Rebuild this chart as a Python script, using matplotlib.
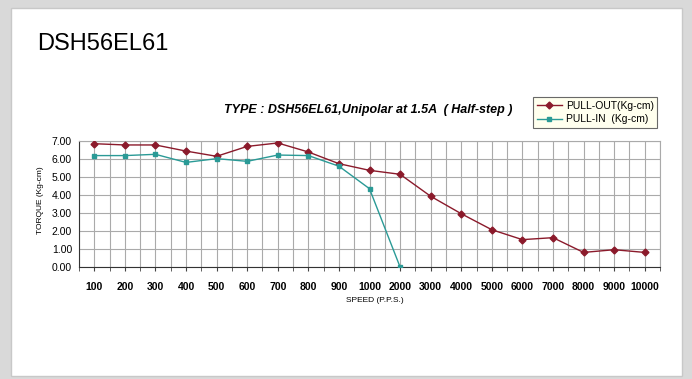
import matplotlib.pyplot as plt
from matplotlib.patches import Rectangle
from matplotlib.ticker import MultipleLocator
from matplotlib import rcParams
rcParams['font.family'] = ['Liberation Sans', 'DejaVu Sans']

# speed categories (P.P.S.) and torque readings (Kg-cm)
speeds = ['100', '200', '300', '400', '500', '600', '700', '800', '900', '1000',
          '2000', '3000', '4000', '5000', '6000', '7000', '8000', '9000', '10000']
pull_out = [6.85, 6.78, 6.78, 6.44, 6.15, 6.70, 6.89, 6.39, 5.74, 5.37,
            5.15, 3.93, 2.96, 2.07, 1.52, 1.63, 0.81, 0.96, 0.81]
pull_in = [6.19, 6.19, 6.26, 5.81, 6.02, 5.87, 6.22, 6.19, 5.60, 4.35, 0.0]

fig = plt.figure(figsize=(6.92, 3.79), dpi=100)
fig.patch.set_facecolor('#d9d9d9')
# white card with thin border
fig.patches.append(Rectangle((11 / 692, 1 - 376 / 379), 671 / 692, 368 / 379,
                             transform=fig.transFigure, facecolor='white',
                             edgecolor='#c8c8c8', linewidth=1, zorder=-5))

fig.text(37 / 692, 1 - 44 / 379, 'DSH56EL61', fontsize=17, va='center', ha='left')
fig.text(368 / 692, 1 - 110 / 379, 'TYPE : DSH56EL61,Unipolar at 1.5A  ( Half-step )',
         fontsize=9, fontweight='bold', fontstyle='italic', ha='center', va='center')

ax = fig.add_axes([79 / 692, 1 - 267 / 379, 581 / 692, 126 / 379])
ax.set_facecolor('white')
x = list(range(len(speeds)))
ax.plot(x, pull_out, color='#8b1a2b', lw=1, marker='D', ms=3.5,
        label='PULL-OUT(Kg-cm)', zorder=3)
ax.plot(x[:len(pull_in)], pull_in, color='#2a9a96', lw=1, marker='s', ms=3.5,
        label='PULL-IN  (Kg-cm)', zorder=3)

ax.set_xlim(-0.5, len(speeds) - 0.5)
ax.set_ylim(0, 7)
ax.set_xticks(x)
ax.set_xticklabels(speeds, fontsize=7.5, fontweight='bold')
ax.xaxis.set_minor_locator(MultipleLocator(1, offset=0.5))
ax.yaxis.set_major_locator(MultipleLocator(1))
ax.yaxis.set_major_formatter('{x:.2f}')
ax.tick_params(axis='y', labelsize=7.5, length=0, pad=5)
ax.tick_params(axis='x', which='major', length=3, pad=8, color='#444444')
ax.tick_params(axis='x', which='minor', length=3, color='#444444')
ax.grid(True, which='both', axis='x', color='#aaaaaa', lw=0.8)
ax.grid(True, which='major', axis='y', color='#aaaaaa', lw=0.8)
ax.set_axisbelow(True)
for s in ['top', 'right']:
    ax.spines[s].set_color('#aaaaaa')
    ax.spines[s].set_linewidth(0.8)
ax.spines['bottom'].set_color('#333333')
ax.spines['left'].set_color('#333333')

fig.text(375 / 692, 1 - 300 / 379, 'SPEED (P.P.S.)', fontsize=6, ha='center', va='center')
fig.text(41 / 692, 1 - 200 / 379, 'TORQUE (Kg-cm)', fontsize=6, rotation=90,
         ha='center', va='center')

leg = fig.legend(loc='upper left', bbox_to_anchor=(533 / 692, 1 - 97 / 379),
                 fontsize=7.5, frameon=True, fancybox=False, borderpad=0.35,
                 handlelength=2.4, handletextpad=0.4, labelspacing=0.35,
                 borderaxespad=0)
leg.get_frame().set_facecolor('#ffffea')
leg.get_frame().set_edgecolor('#444444')
leg.get_frame().set_linewidth(0.8)

plt.savefig('out.png', dpi=100, facecolor=fig.get_facecolor())
